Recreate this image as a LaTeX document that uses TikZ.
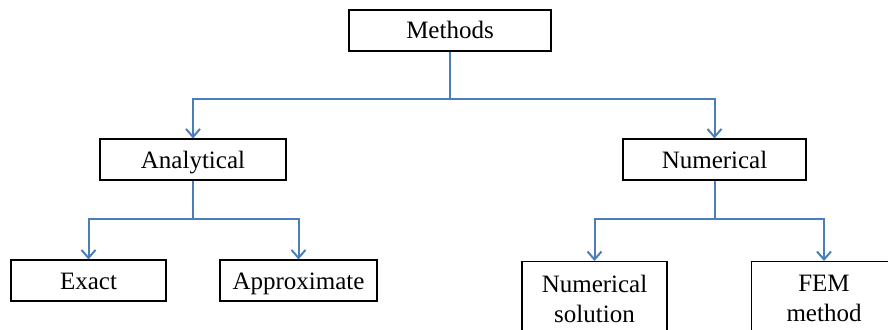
\documentclass[tikz,border=0pt]{standalone}
\usepackage{fontspec}
\setmainfont{Liberation Serif}
\usetikzlibrary{arrows.meta}
\definecolor{officeblue}{RGB}{74, 126, 187}

\tikzset{
    boxbase/.style={draw=black, line width=1.1pt, fill=white, inner sep=0pt,
                    font=\fontsize{25}{30}\selectfont},
    methodbox/.style={boxbase, minimum height=41pt, text height=20pt, text depth=3pt},
    tallbox/.style={boxbase, anchor=north, minimum height=74pt, align=center},
    branch/.style={officeblue, line width=2pt},
    branchto/.style={branch, -{Straight Barb[length=8pt, width=14pt, line width=2pt]}}
}

\begin{document}
\begin{tikzpicture}[x=1pt, y=-1pt]
            % Frame to fix the page size:
            \useasboundingbox                                   (0, 0) rectangle (888, 329);
            \clip                                               (0, 0) rectangle (888, 329);
            % Top level
            \node[methodbox, minimum width=202pt] (methods)     at (450.0,  30.5) {Methods};
            % Second level
            \node[methodbox, minimum width=186pt] (analytical)  at (193.0, 159.5) {Analytical};
            \node[methodbox, minimum width=183pt] (numerical)   at (714.5, 159.5) {Numerical};
            % Third level
            \node[methodbox, minimum width=155pt] (exact)       at ( 88.5, 280.5) {Exact};
            \node[methodbox, minimum width=157pt] (approx)      at (298.5, 280.5) {Approximate};
            \node[tallbox,   minimum width=145pt] (numsol)      at (594.5, 261.0) {Numerical\\solution};
            \node[tallbox,   minimum width=145pt] (fem)         at (824.0, 261.0) {FEM\\method};
            % Junction points
            \coordinate (jtop)   at (450.0,  99.0);
            \coordinate (jleft)  at (193.0, 219.0);
            \coordinate (jright) at (714.5, 219.0);
            % Methods -> Analytical / Numerical
            \draw[branch, line width=1.4pt]                     (methods.south) -- (jtop);
            \draw[branchto]                                     (jtop) -| (analytical.north);
            \draw[branchto]                                     (jtop) -| (numerical.north);
            % Analytical -> Exact / Approximate
            \draw[branch]                                       (analytical.south) -- (jleft);
            \draw[branchto]                                     (jleft) -| (exact.north);
            \draw[branchto]                                     (jleft) -| (approx.north);
            % Numerical -> Numerical solution / FEM method
            \draw[branch]                                       (numerical.south) -- (jright);
            \draw[branchto]                                     (jright) -| (numsol.north);
            \draw[branchto]                                     (jright) -| (fem.north);
        \end{tikzpicture}
\end{document}
